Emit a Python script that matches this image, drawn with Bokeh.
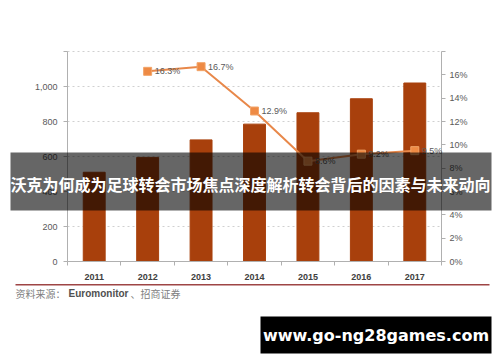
from bokeh.plotting import figure
from bokeh.models import (Range1d, LinearAxis, FixedTicker, NumeralTickFormatter,
                          Label, LabelSet, BoxAnnotation, ColumnDataSource)
from bokeh.core.properties import value
from bokeh.embed import file_html
from bokeh.resources import INLINE

# ---- data ----
years = ["2011", "2012", "2013", "2014", "2015", "2016", "2017"]
sales = [510, 595, 695, 785, 850, 930, 1020]
growth_years = ["2012", "2013", "2014", "2015", "2016", "2017"]
growth = [16.3, 16.7, 12.9, 8.6, 9.2, 9.5]
left_ticks = [0, 200, 400, 600, 800, 1000, 1200]
right_ticks = [0, 2, 4, 6, 8, 10, 12, 14, 16, 18]
left_max = 1200
right_max = 18
title_text = "沃克为何成为足球转会市场焦点深度解析转会背后的因素与未来动向"
source_cn = "资料来源："
source_en = "Euromonitor"
source_cn2 = "、招商证券"
watermark_text = "www.go-ng28games.com"

# ---- layout (pixels on the canvas) ----
W, H = 492, 354
PL, PR, PT, PB = 67, 441, 51, 261   # chart area edges

n = len(years)
idx = list(range(n))
gidx = [years.index(y) for y in growth_years]

# frame covers the whole canvas; ranges extended so the chart area lands on PL..PR / PT..PB
xs = (PR - PL) / n
x0 = -0.5 - PL / xs
x1 = -0.5 + (W - PL) / xs
ys = (PB - PT) / left_max
y0 = -(H - PB) / ys
y1 = PB / ys
k = right_max / left_max

bar_src = ColumnDataSource(dict(x=idx, top=sales))
line_src = ColumnDataSource(dict(x=gidx, y=growth, lab=[f"{g:.1f}%" for g in growth]))
grid_src = ColumnDataSource(dict(y=left_ticks[1:]))

p = figure(width=W, height=H, output_backend="svg", toolbar_location=None,
           x_range=Range1d(x0, x1), y_range=Range1d(y0, y1),
           min_border=0, min_border_left=0, min_border_right=0,
           min_border_top=0, min_border_bottom=0)
p.outline_line_color = None
p.background_fill_color = "white"
p.border_fill_color = "white"
p.extra_y_ranges = {"pct": Range1d(y0 * k, y1 * k)}
p.xgrid.grid_line_color = None
p.ygrid.grid_line_color = None

AX = "#b0b0b0"
TXT = "#595959"

# left axis
ya = p.yaxis[0]
ya.fixed_location = -0.5
ya.bounds = (0, left_max)
ya.ticker = FixedTicker(ticks=left_ticks)
ya.formatter = NumeralTickFormatter(format="0,0")
ya.major_label_overrides = {1200: ""}
ya.axis_line_color = AX
ya.major_tick_line_color = AX
ya.major_tick_out = 4
ya.major_tick_in = 0
ya.minor_tick_line_color = None
ya.major_label_text_font = "Liberation Sans"
ya.major_label_text_font_size = "9px"
ya.major_label_text_color = TXT
ya.major_label_standoff = 6

# right axis
ra = LinearAxis(y_range_name="pct", ticker=FixedTicker(ticks=right_ticks))
ra.fixed_location = n - 0.5
ra.bounds = (0, right_max)
ra.major_label_overrides = {t: (f"{t}%" if t != 18 else "") for t in right_ticks}
ra.axis_line_color = AX
ra.major_tick_line_color = AX
ra.major_tick_out = 4
ra.major_tick_in = 0
ra.minor_tick_line_color = None
ra.major_label_text_font = "Liberation Sans"
ra.major_label_text_font_size = "9px"
ra.major_label_text_color = TXT
ra.major_label_standoff = 4
p.add_layout(ra, "right")

# bottom axis
xa = p.xaxis[0]
xa.fixed_location = 0
xa.bounds = (-0.5, n - 0.5)
xa.ticker = FixedTicker(ticks=idx, minor_ticks=[i - 0.5 for i in range(n + 1)])
xa.major_label_overrides = {i: y for i, y in zip(idx, years)}
xa.axis_line_color = AX
xa.major_tick_line_color = None
xa.minor_tick_line_color = AX
xa.minor_tick_out = 4
xa.minor_tick_in = 0
xa.major_label_text_font = "Liberation Sans"
xa.major_label_text_font_style = "bold"
xa.major_label_text_font_size = "9px"
xa.major_label_text_color = "#404040"
xa.major_label_standoff = 6

# dashed horizontal gridlines limited to the chart area
p.segment(x0=-0.5, x1=n - 0.5, y0="y", y1="y", source=grid_src,
          line_color="#d0d0d0", line_dash="2 3", line_width=1)

# bars
p.vbar(x="x", top="top", width=0.41, source=bar_src, fill_color="#A8400C", line_color="#A8400C")

# growth line
p.line(x="x", y="y", source=line_src, y_range_name="pct", line_color="#E8884A", line_width=2)
p.scatter(x="x", y="y", source=line_src, y_range_name="pct", marker="square", size=8,
          fill_color="#EE8A44", line_color="#F2A468")
p.add_layout(LabelSet(x="x", y="y", text="lab", source=line_src, y_range_name="pct",
                      x_offset=7, text_baseline="middle", text_font=value("Liberation Sans"),
                      text_font_size="9px", text_color=TXT))

# overlay banner (screen units = canvas pixels, y measured from the bottom)
p.add_layout(BoxAnnotation(left=10, right=491, bottom=H - 210, top=H - 152,
                           left_units="screen", right_units="screen",
                           bottom_units="screen", top_units="screen",
                           fill_color="black", fill_alpha=0.6, line_color=None))
p.add_layout(Label(x=250, y=H - 183, x_units="screen", y_units="screen", text=title_text,
                   text_align="center", text_baseline="middle",
                   text_font="Noto Sans CJK SC", text_font_style="bold",
                   text_font_size="16px", text_color="white"))

# source rule and text
p.add_layout(BoxAnnotation(left=15, right=489, bottom=H - 285, top=H - 283.5,
                           left_units="screen", right_units="screen",
                           bottom_units="screen", top_units="screen",
                           fill_color="#9E4545", fill_alpha=1, line_color=None))
p.add_layout(Label(x=15, y=H - 293, x_units="screen", y_units="screen", text=source_cn,
                   text_align="left", text_baseline="middle",
                   text_font="Noto Sans CJK SC", text_font_size="10px",
                   text_color="#808080"))
p.add_layout(Label(x=68, y=H - 293, x_units="screen", y_units="screen", text=source_en,
                   text_align="left", text_baseline="middle",
                   text_font="Liberation Sans", text_font_style="bold", text_font_size="10px",
                   text_color="#505050"))
p.add_layout(Label(x=130, y=H - 293, x_units="screen", y_units="screen", text=source_cn2,
                   text_align="left", text_baseline="middle",
                   text_font="Noto Sans CJK SC", text_font_size="10px",
                   text_color="#808080"))

# watermark
p.add_layout(BoxAnnotation(left=260, right=491, bottom=H - 353, top=H - 316,
                           left_units="screen", right_units="screen",
                           bottom_units="screen", top_units="screen",
                           fill_color="black", fill_alpha=1, line_color=None))
p.add_layout(Label(x=375.5, y=H - 335, x_units="screen", y_units="screen", text=watermark_text,
                   text_align="center", text_baseline="middle",
                   text_font="DejaVu Sans", text_font_style="bold",
                   text_font_size="16px", text_color="white"))

open("out.html", "w").write(file_html(p, INLINE))
